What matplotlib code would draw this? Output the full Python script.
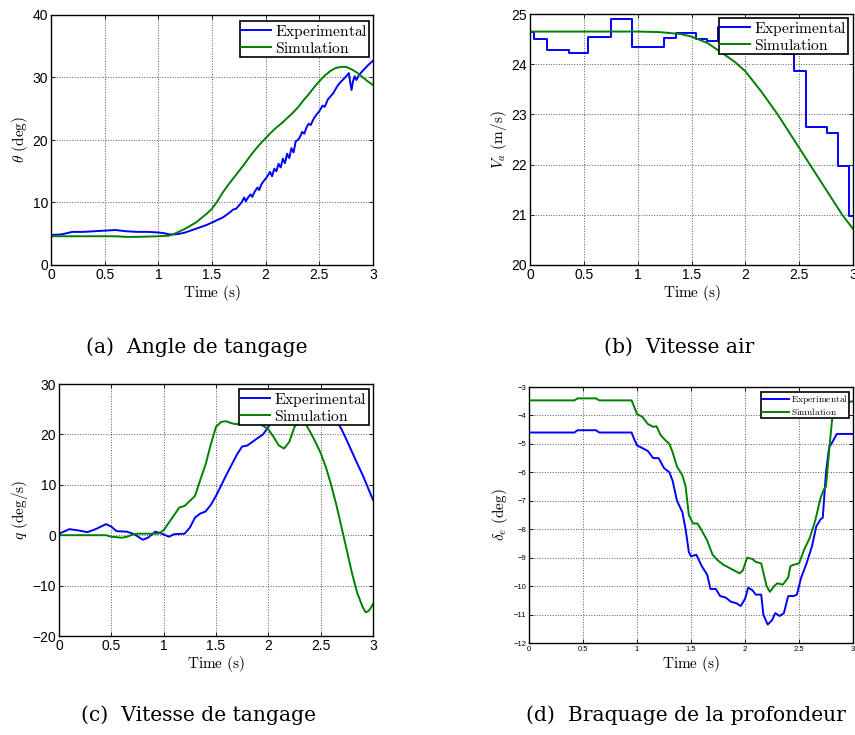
import numpy as np
import matplotlib
matplotlib.use("Agg")
import matplotlib.pyplot as plt

plt.rcParams['mathtext.fontset'] = 'cm'
plt.rcParams['font.family'] = ['Liberation Sans', 'DejaVu Sans']

BLUE = (0, 0, 1)
GREEN = (0, 0.5, 0)

# ---------------------------------------------------------------- (a) pitch angle
th_exp_t = [0, 0.1, 0.2, 0.3, 0.4, 0.5, 0.6, 0.7, 0.8, 0.9, 1.0, 1.05, 1.1, 1.15, 1.2,
            1.25, 1.3, 1.35, 1.4, 1.45, 1.5, 1.55, 1.6, 1.65, 1.7, 1.725, 1.75, 1.775,
            1.8, 1.815, 1.84, 1.86, 1.875, 1.9, 1.925, 1.94, 1.96, 1.98, 2.0, 2.02, 2.04,
            2.06, 2.08, 2.1, 2.12, 2.14, 2.16, 2.18, 2.2, 2.22, 2.24, 2.26, 2.28, 2.3,
            2.32, 2.34, 2.36, 2.38, 2.4, 2.42, 2.45, 2.48, 2.5, 2.53, 2.55, 2.58, 2.6,
            2.63, 2.66, 2.68, 2.7, 2.74, 2.775, 2.79, 2.8, 2.815, 2.83, 2.845, 2.87,
            2.9, 2.95, 3.0]
th_exp = [4.8, 4.9, 5.3, 5.3, 5.4, 5.5, 5.6, 5.4, 5.3, 5.3, 5.2, 5.1, 4.9, 4.9, 5.0,
          5.2, 5.5, 5.8, 6.1, 6.4, 6.8, 7.2, 7.6, 8.2, 8.9, 9.0, 9.5, 10.0,
          10.8, 10.2, 10.9, 11.3, 10.9, 11.8, 12.4, 12.0, 12.9, 13.4, 13.8, 14.3, 14.9,
          14.2, 15.4, 15.0, 16.2, 15.6, 17.0, 16.3, 17.8, 17.1, 18.7, 18.0, 19.8, 20.0,
          20.5, 21.3, 21.0, 22.0, 22.6, 22.4, 23.5, 24.2, 24.6, 25.5, 25.3, 26.5, 26.9,
          27.5, 28.4, 28.9, 29.3, 30.0, 30.7, 29.0, 28.0, 29.5, 30.2, 29.6, 30.4,
          31.0, 31.9, 32.7]
th_sim_t = [0, 0.2, 0.4, 0.6, 0.7, 0.8, 1.0, 1.1, 1.15, 1.2, 1.25, 1.3, 1.35, 1.4, 1.45,
            1.5, 1.55, 1.6, 1.65, 1.7, 1.75, 1.8, 1.85, 1.9, 1.95, 2.0, 2.05, 2.1, 2.15,
            2.2, 2.25, 2.3, 2.35, 2.4, 2.45, 2.5, 2.55, 2.6, 2.65, 2.7, 2.75, 2.8, 2.85,
            2.9, 2.95, 3.0]
th_sim = [4.6, 4.6, 4.6, 4.6, 4.5, 4.5, 4.6, 4.7, 5.0, 5.4, 5.8, 6.3, 6.8, 7.5, 8.2,
          9.0, 10.2, 11.6, 12.8, 13.9, 15.0, 16.1, 17.3, 18.4, 19.4, 20.3, 21.2, 22.0, 22.7,
          23.5, 24.3, 25.2, 26.3, 27.3, 28.4, 29.4, 30.3, 31.0, 31.5, 31.7, 31.7, 31.3, 30.8,
          30.1, 29.4, 28.8]

# ---------------------------------------------------------------- (b) airspeed
va_exp_t = [0, 0.04, 0.16, 0.36, 0.54, 0.75, 0.95, 1.24, 1.36, 1.54, 1.64, 1.75, 1.92,
            2.05, 2.14, 2.35, 2.45, 2.56, 2.76, 2.86, 2.96, 3.0]
va_exp = [24.65, 24.5, 24.28, 24.22, 24.54, 24.9, 24.35, 24.52, 24.62, 24.5, 24.47, 24.75,
          24.55, 24.38, 24.23, 24.2, 23.87, 22.75, 22.63, 21.98, 20.97, 20.97]
va_sim_t = [0, 0.5, 1.0, 1.2, 1.4, 1.5, 1.65, 1.8, 1.9, 2.0, 2.15, 2.3, 2.45, 2.6, 2.75,
            2.9, 3.0]
va_sim = [24.65, 24.65, 24.65, 24.64, 24.6, 24.55, 24.42, 24.2, 24.05, 23.86, 23.45, 23.0,
          22.5, 22.0, 21.5, 21.0, 20.72]

# ---------------------------------------------------------------- (c) pitch rate
q_exp_t = [0, 0.1, 0.2, 0.27, 0.35, 0.45, 0.5, 0.55, 0.65, 0.72, 0.8, 0.85, 0.92, 0.97,
           1.05, 1.1, 1.2, 1.25, 1.3, 1.35, 1.4, 1.45, 1.5, 1.6, 1.7, 1.75, 1.8, 1.9, 1.95,
           2.0, 2.05, 2.15, 2.3, 2.45, 2.6, 2.65, 2.7, 2.75, 2.8, 2.85, 2.9, 2.95, 3.0]
q_exp = [0.3, 1.2, 0.9, 0.6, 1.2, 2.2, 1.7, 0.8, 0.7, 0.2, -0.9, -0.5, 0.7, 0.4,
         -0.3, 0.2, 0.3, 1.5, 3.5, 4.3, 4.7, 6.0, 7.8, 12.0, 16.0, 17.6, 17.8, 19.3, 20.0,
         21.5, 23.0, 25.0, 25.5, 25.0, 23.5, 22.7, 21.0, 18.8, 16.5, 14.2, 12.0, 9.5, 7.0]
q_sim_t = [0, 0.45, 0.5, 0.6, 0.65, 0.7, 0.75, 0.9, 0.95, 1.0, 1.05, 1.1, 1.15, 1.2, 1.25,
           1.3, 1.35, 1.4, 1.45, 1.5, 1.55, 1.6, 1.65, 1.7, 1.75, 1.8, 1.9, 1.95, 2.0,
           2.05, 2.1, 2.15, 2.2, 2.25, 2.3, 2.35, 2.4, 2.45, 2.5, 2.55, 2.6, 2.65, 2.7,
           2.75, 2.8, 2.85, 2.9, 2.93, 2.96, 3.0]
q_sim = [0, 0, -0.3, -0.5, -0.3, 0.1, 0.3, 0.3, 0.3, 1.0, 2.5, 4.0, 5.5, 5.8, 6.8,
         7.8, 11.0, 14.0, 18.0, 21.5, 22.5, 22.6, 22.2, 22.0, 22.6, 22.7, 22.3, 21.7, 21.0,
         19.5, 17.8, 17.2, 18.5, 21.5, 22.6, 22.3, 20.5, 18.5, 16.3, 13.5, 10.0, 6.0, 1.5,
         -3.0, -7.6, -11.5, -14.2, -15.3, -15.0, -13.7]

# ---------------------------------------------------------------- (d) elevator
de_exp_t = [0, 0.42, 0.45, 0.62, 0.65, 0.95, 0.97, 1.0, 1.05, 1.1, 1.15, 1.2, 1.25, 1.3,
            1.33, 1.37, 1.42, 1.45, 1.48, 1.5, 1.55, 1.6, 1.65, 1.68, 1.73, 1.77, 1.82,
            1.87, 1.92, 1.96, 2.0, 2.03, 2.07, 2.1, 2.15, 2.17, 2.21, 2.25, 2.28, 2.32,
            2.36, 2.4, 2.45, 2.48, 2.52, 2.57, 2.62, 2.66, 2.7, 2.72, 2.75, 2.78, 2.8,
            2.85, 3.0]
de_exp = [-4.6, -4.6, -4.52, -4.52, -4.6, -4.6, -4.8, -5.05, -5.15, -5.25, -5.5, -5.5,
          -5.85, -6.0, -6.3, -7.0, -7.4, -8.0, -8.8, -8.95, -8.9, -9.3, -9.6, -10.1,
          -10.1, -10.35, -10.4, -10.55, -10.6, -10.7, -10.45, -10.05, -10.15, -10.3,
          -10.3, -11.0, -11.35, -11.2, -10.95, -11.05, -10.95, -10.35, -10.35, -10.3,
          -9.7, -9.2, -8.6, -7.9, -7.65, -7.6, -6.0, -5.1, -5.0, -4.65, -4.65]
de_sim_t = [0, 0.42, 0.45, 0.62, 0.65, 0.95, 1.0, 1.05, 1.1, 1.15, 1.18, 1.22, 1.27, 1.3,
            1.33, 1.37, 1.42, 1.45, 1.48, 1.52, 1.56, 1.6, 1.65, 1.7, 1.75, 1.8, 1.85,
            1.9, 1.95, 1.98, 2.02, 2.07, 2.1, 2.15, 2.2, 2.23, 2.27, 2.3, 2.35, 2.4, 2.42,
            2.45, 2.5, 2.55, 2.6, 2.65, 2.7, 2.73, 2.75, 2.78, 2.81, 2.85, 3.0]
de_sim = [-3.47, -3.47, -3.4, -3.4, -3.47, -3.47, -3.95, -4.05, -4.3, -4.4, -4.38, -4.7,
          -4.9, -5.0, -5.3, -5.8, -6.1, -6.5, -7.5, -7.8, -7.8, -8.05, -8.4, -8.9, -9.1,
          -9.25, -9.35, -9.45, -9.55, -9.45, -9.0, -9.05, -9.15, -9.2, -10.0, -10.2,
          -10.0, -9.9, -9.95, -9.7, -9.3, -9.25, -9.2, -8.7, -8.3, -7.7, -6.9, -6.6,
          -6.5, -5.2, -4.0, -3.6, -3.5]

labels = [r'$\mathrm{Experimental}$', r'$\mathrm{Simulation}$']
W, H = 855, 735


def make_axes(fig, l, r, t, b):
    return fig.add_axes([l / W, (H - b) / H, (r - l) / W, (b - t) / H])


def style(ax, ylabel, yticks, ylim, tick_fs, leg_fs, leg_anchor, hlen):
    ax.set_xlim(0, 3)
    ax.set_ylim(*ylim)
    ax.set_xticks([0, 0.5, 1, 1.5, 2, 2.5, 3])
    ax.set_xticklabels(['0', '0.5', '1', '1.5', '2', '2.5', '3'])
    ax.set_yticks(yticks)
    ax.tick_params(direction='in', top=True, right=True, labelsize=tick_fs,
                   length=3, width=0.6, pad=2)
    ax.grid(True, linestyle=':', color='0.35', linewidth=0.7)
    for sp in ax.spines.values():
        sp.set_linewidth(1.0)
    ax.set_xlabel(r'$\mathrm{Time\ (s)}$', fontsize=11, labelpad=1)
    ax.set_ylabel(ylabel, fontsize=11, labelpad=2)
    leg = ax.legend(labels, loc='upper right', bbox_to_anchor=leg_anchor,
                    borderaxespad=0, fancybox=False, framealpha=1, edgecolor='black',
                    fontsize=leg_fs, handlelength=hlen, borderpad=0.1,
                    labelspacing=0.0, handletextpad=0.25)
    leg.get_frame().set_linewidth(1.2)


fig = plt.figure(figsize=(W / 100, H / 100), dpi=100)

ax = make_axes(fig, 51, 373, 15, 265)
ax.plot(th_exp_t, th_exp, color=BLUE, lw=1.4)
ax.plot(th_sim_t, th_sim, color=GREEN, lw=1.4)
style(ax, r'$\theta\ \mathrm{(deg)}$', [0, 10, 20, 30, 40], (0, 40), 10, 11.2,
      (0.988, 0.976), 1.9)

ax = make_axes(fig, 530, 853, 14, 265)
ax.plot(va_exp_t, va_exp, color=BLUE, lw=1.4, drawstyle='steps-post')
ax.plot(va_sim_t, va_sim, color=GREEN, lw=1.4)
style(ax, r'$V_a\ \mathrm{(m/s)}$', [20, 21, 22, 23, 24, 25], (20, 25), 10, 11.2,
      (0.985, 0.984), 1.9)

ax = make_axes(fig, 59, 373, 384, 636)
ax.plot(q_exp_t, q_exp, color=BLUE, lw=1.4)
ax.plot(q_sim_t, q_sim, color=GREEN, lw=1.4)
style(ax, r'$q\ \mathrm{(deg/s)}$', [-20, -10, 0, 10, 20, 30], (-20, 30), 10, 11.2,
      (0.987, 0.98), 1.9)

ax = make_axes(fig, 529, 853, 387, 643)
ax.plot(de_exp_t, de_exp, color=BLUE, lw=1.4)
ax.plot(de_sim_t, de_sim, color=GREEN, lw=1.4)
style(ax, r'$\delta_e\ \mathrm{(deg)}$', list(range(-12, -2)), (-12, -3), 5.5, 6.8,
      (0.988, 0.98), 2.8)

cap = dict(fontsize=14.6, family='DejaVu Serif', ha='center', va='center')
fig.text(197 / W, 1 - 347 / H, '(a)  Angle de tangage', **cap)
fig.text(679 / W, 1 - 347 / H, '(b)  Vitesse air', **cap)
fig.text(198 / W, 1 - 715 / H, '(c)  Vitesse de tangage', **cap)
fig.text(686 / W, 1 - 715 / H, '(d)  Braquage de la profondeur', **cap)

fig.savefig('out.png', dpi=100)
